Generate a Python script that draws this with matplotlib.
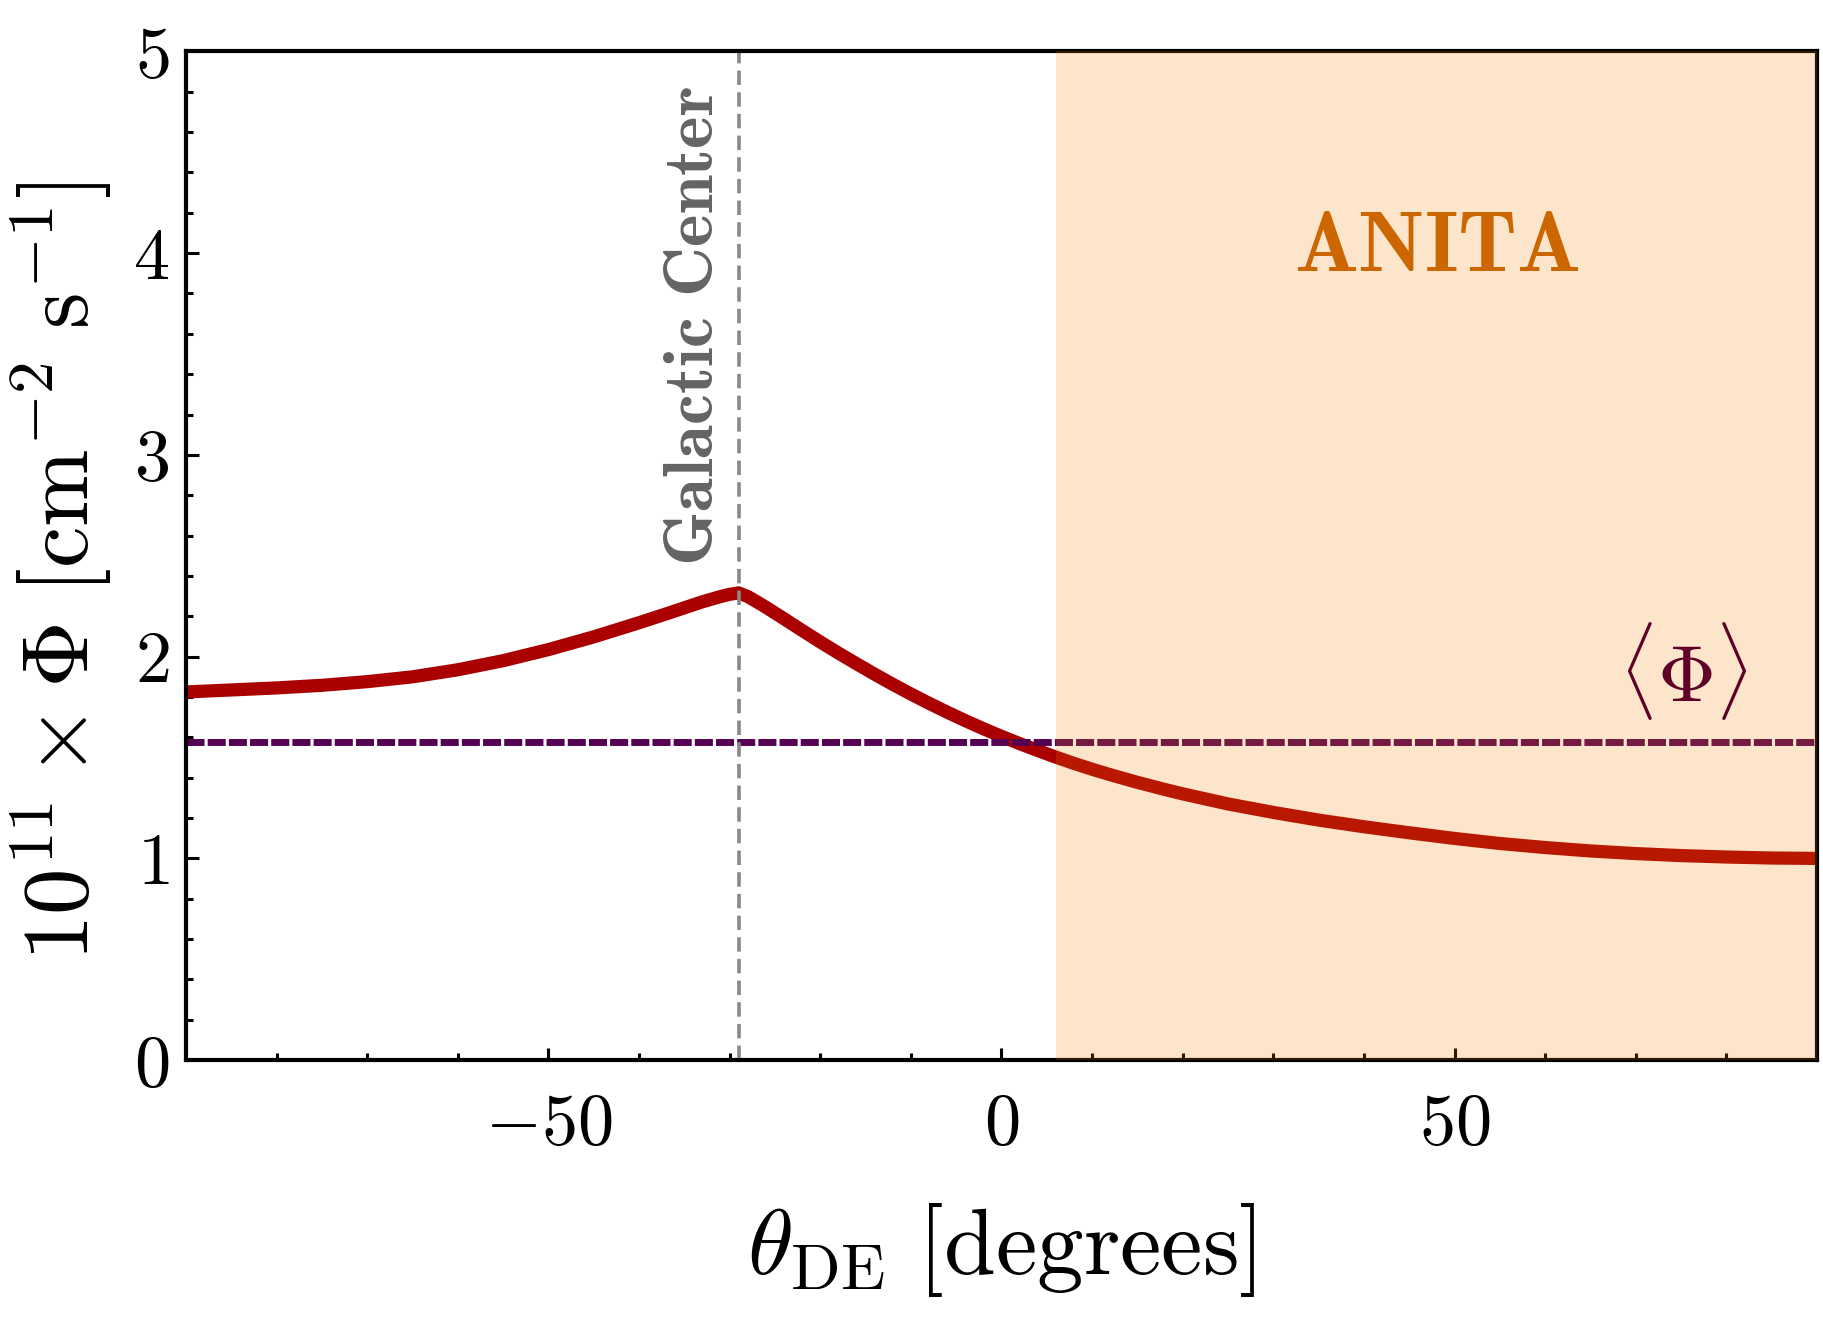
import numpy as np
import matplotlib
matplotlib.use('Agg')
import matplotlib.pyplot as plt

plt.rcParams['mathtext.fontset'] = 'cm'
plt.rcParams['font.family'] = 'serif'
plt.rcParams['font.serif'] = ['cmr10', 'DejaVu Serif']
plt.rcParams['axes.formatter.use_mathtext'] = True

# flux vs declination
theta_de = [-90, -80, -75, -70, -65, -60, -55, -50, -45, -42, -40, -37, -35, -33, -31, -30, -29,
            -28, -27, -26, -24, -22, -20, -18, -16, -14, -12, -10, -8, -6, -4, -2,
            0, 2, 4, 6, 8, 10, 12, 15, 18, 20, 22, 25, 30, 35, 40, 45,
            50, 55, 60, 65, 70, 75, 80, 85, 90]
phi = [1.825, 1.845, 1.858, 1.876, 1.90, 1.935, 1.98, 2.035, 2.098, 2.14, 2.168, 2.212,
       2.242, 2.272, 2.298, 2.309, 2.316,
       2.298, 2.272, 2.245, 2.188, 2.13, 2.073, 2.018, 1.965, 1.913, 1.863, 1.815, 1.769,
       1.725, 1.683, 1.643,
       1.605, 1.569, 1.535, 1.502, 1.471, 1.442, 1.415, 1.377, 1.342, 1.32, 1.30, 1.27,
       1.228, 1.19, 1.157, 1.127,
       1.099, 1.074, 1.054, 1.037, 1.024, 1.014, 1.007, 1.002, 1.0]
phi_mean = 1.576
theta_gc = -29
anita_min = 6
xlim = (-90, 90)
ylim = (0, 5)

fig = plt.figure(figsize=(18.23, 13.17), dpi=100)
ax = fig.add_axes([0.102, 0.195, 0.8947, 0.766])

ax.plot(theta_de, phi, color='#aa0000', lw=9.5, solid_capstyle='butt',
        solid_joinstyle='round', zorder=2)
ax.axhline(phi_mean, color='#560053', lw=5, dashes=(2.6, 0.45), zorder=2.1)
ax.axvline(theta_gc, color='#888888', lw=2.6, dashes=(4, 2), zorder=2.2)
ax.axvspan(anita_min, xlim[1], color=(245/255, 125/255, 0), alpha=0.2, lw=0, zorder=3)

ax.text(48, 4.02, r'$\mathbf{ANITA}$', color='#cc6600', fontsize=61,
        ha='center', va='center', zorder=4)
ax.text(-33.8, 2.45, r'$\mathbf{Galactic\ Center}$', color='#646464', fontsize=50,
        rotation=90, ha='center', va='bottom', zorder=4)
ax.text(75.2, 1.93, r'$\langle\Phi\rangle$', color='#5e0028', fontsize=58,
        ha='center', va='center', zorder=4)

ax.set_xlim(*xlim)
ax.set_ylim(*ylim)
ax.set_xticks([-50, 0, 50])
ax.set_xticks(np.arange(-80, 90, 10), minor=True)
ax.set_yticks([0, 1, 2, 3, 4, 5])
ax.set_yticks(np.arange(0, 5.01, 0.2), minor=True)
ax.tick_params(which='both', direction='in', top=False, right=False, labelsize=52, width=2.2)
ax.tick_params(which='major', length=9)
ax.tick_params(which='minor', length=5)
ax.tick_params(axis='x', which='major', pad=24)
ax.tick_params(axis='y', which='major', pad=12)
for s in ax.spines.values():
    s.set_linewidth(3)

ax.set_xlabel(r'$\theta_{\mathrm{DE}}\ [\mathrm{degrees}]$', fontsize=67)
ax.set_ylabel(r'$10^{11} \times \Phi\ [\mathrm{cm}^{-2}\ \mathrm{s}^{-1}]$', fontsize=67)
ax.xaxis.set_label_coords(0.5, -0.14)
ax.yaxis.set_label_coords(-0.044, 0.485)

plt.savefig('out.png', dpi=100)
